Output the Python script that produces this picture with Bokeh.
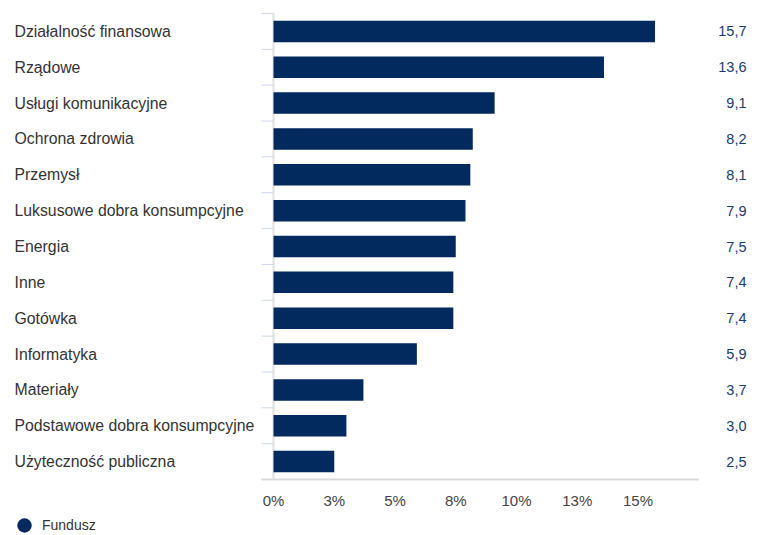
from bokeh.plotting import figure
from bokeh.models import (Range1d, ColumnDataSource, LabelSet, LinearAxis,
                          FixedTicker, Legend, LegendItem)
from bokeh.core.properties import value
from bokeh.embed import file_html
from bokeh.resources import INLINE

categories = ["Działalność finansowa", "Rządowe", "Usługi komunikacyjne", "Ochrona zdrowia",
              "Przemysł", "Luksusowe dobra konsumpcyjne", "Energia", "Inne", "Gotówka",
              "Informatyka", "Materiały", "Podstawowe dobra konsumpcyjne", "Użyteczność publiczna"]
values = [15.7, 13.6, 9.1, 8.2, 8.1, 7.9, 7.5, 7.4, 7.4, 5.9, 3.7, 3.0, 2.5]
tick_values = [0, 2.5, 5, 7.5, 10, 12.5, 15]
tick_labels = ["0%", "3%", "5%", "8%", "10%", "13%", "15%"]
axis_max = 17.5
series_name = "Fundusz"

value_labels = [f"{v:.1f}".replace(".", ",") for v in values]
ys = list(range(len(categories)))           # row index, top to bottom
edges = [y - 0.5 for y in ys] + [ys[-1] + 0.5]

BAR = "#022a5e"
FONT = "Liberation Sans"
W, H = 757, 535
PX = 24.3           # pixels per percentage point
ZERO = 273          # screen x of zero
TOP, BOTTOM = 13, 479
U = (BOTTOM - TOP) / len(categories)   # pixels per row
TICK_START = -12 / PX

src = ColumnDataSource(dict(y=ys, cat=categories, val=values, lbl=value_labels))
edge_src = ColumnDataSource(dict(e=edges))
base_src = ColumnDataSource(dict(e=[edges[-1]]))

p = figure(width=W, height=H,
           x_range=Range1d(-ZERO / PX, (W - ZERO) / PX),
           y_range=Range1d(edges[-1] + (H - BOTTOM) / U, edges[0] - TOP / U),
           output_backend="svg", toolbar_location=None,
           x_axis_location=None, y_axis_location=None,
           min_border_left=0, min_border_right=0, min_border_top=0, min_border_bottom=0)
p.outline_line_color = None
p.xgrid.visible = False
p.ygrid.visible = False

# x axis drawn at the bottom edge of the category band
ax = LinearAxis(fixed_location=edges[-1])
ax.ticker = FixedTicker(ticks=tick_values)
ax.major_label_overrides = dict(zip(tick_values, tick_labels))
ax.axis_line_color = None
ax.major_tick_line_color = None
ax.minor_tick_line_color = None
ax.major_tick_out = 0
ax.major_tick_in = 0
ax.minor_tick_out = 0
ax.major_label_standoff = 12
ax.major_label_text_font = FONT
ax.major_label_text_font_size = "15px"
ax.major_label_text_color = "#444444"
p.add_layout(ax, "below")

# vertical axis line at zero
p.segment(x0=0, x1=0, y0=edges[0], y1=edges[-1], line_color="#e0e0e0", line_width=2)

# category boundary ticks
p.segment(x0=TICK_START, x1=0, y0="e", y1="e", source=edge_src, line_color="#ccd6eb", line_width=1)
# bottom axis line
p.segment(x0=TICK_START, x1=axis_max, y0="e", y1="e", source=base_src, line_color="#d9d9d9", line_width=2)

# bars
p.hbar(y="y", left=0, right="val", height=0.6, source=src, fill_color=BAR, line_color=None)

# category labels
p.add_layout(LabelSet(x=0, y="y", text="cat", source=src, x_offset=-259,
                      text_align="left", text_baseline="middle",
                      text_font=value(FONT), text_font_size="15.8px", text_color="#333333"))
# value labels
p.add_layout(LabelSet(x=0, y="y", text="lbl", source=src, x_offset=473,
                      text_align="right", text_baseline="middle",
                      text_font=value(FONT), text_font_size="14.5px", text_color="#1d3a6b"))

# legend marker renderer: zero-size points, so only the legend shows the circle
dot = p.scatter(x="val", y="y", source=src, marker="circle", size=0,
                fill_color=BAR, line_color=None)
legend = Legend(items=[LegendItem(label=series_name, renderers=[dot])],
                location=(6, -9), orientation="horizontal",
                glyph_width=36, glyph_height=38, label_height=38, label_standoff=0,
                padding=0, margin=0, border_line_color=None, background_fill_alpha=0,
                label_text_font=FONT, label_text_font_size="14px", label_text_color="#333333")
p.add_layout(legend, "center")

open("out.html", "w").write(file_html(p, INLINE))
